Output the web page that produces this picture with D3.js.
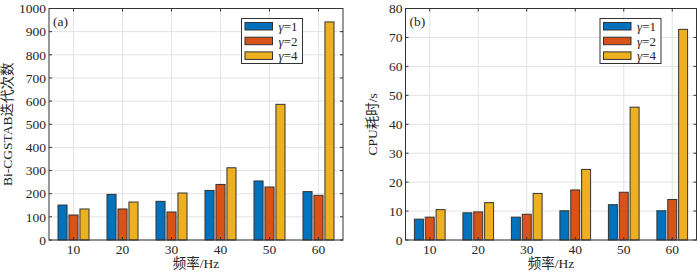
<!DOCTYPE html>
<html>
<head>
<meta charset="utf-8">
<script src="https://cdn.jsdelivr.net/npm/d3@7"></script>
<style>
  body { margin: 0; background: #fff; }
  svg text { font-family: "Liberation Serif", "Times New Roman", "Noto Sans CJK SC", serif; fill: #262626; }
</style>
</head>
<body>
<svg id="chart" width="700" height="272"></svg>
<script>
// categories and series
const freqs = [10, 20, 30, 40, 50, 60];
const seriesNames = ["1", "2", "4"];
const iterG1 = [151, 197, 167, 214, 255, 209];
const iterG2 = [108, 134, 121, 240, 229, 193];
const iterG4 = [134, 164, 203, 312, 586, 942];
const cpuG1 = [7.2, 9.4, 7.9, 10.1, 12.2, 10.1];
const cpuG2 = [7.9, 9.7, 8.9, 17.3, 16.5, 14.0];
const cpuG4 = [10.5, 12.9, 16.1, 24.4, 45.9, 72.8];
const iterTicks = d3.range(0, 1001, 100);
const cpuTicks = d3.range(0, 81, 10);

const colors = ["#0072BD", "#D95319", "#EDB120"];

const svg = d3.select("#chart");

function panel(opts) {
    const { left, right, top, bottom, series, yMax, yTicks, yLabel, tag, legendX } = opts;

    const x = d3.scaleLinear().domain([5, 65]).range([left, right]);
    const y = d3.scaleLinear().domain([0, yMax]).range([bottom, top]);
    const g = svg.append("g");

    // grid
    g.selectAll(".gy").data(yTicks).enter().append("line")
        .attr("x1", left).attr("x2", right)
        .attr("y1", d => y(d)).attr("y2", d => y(d))
        .attr("stroke", "#e3e3e3").attr("stroke-width", 1);
    g.selectAll(".gx").data(freqs).enter().append("line")
        .attr("x1", d => x(d)).attr("x2", d => x(d))
        .attr("y1", top).attr("y2", bottom)
        .attr("stroke", "#e3e3e3").attr("stroke-width", 1);

    // bars
    const offset = 2.24, barW = 1.85;
    series.forEach((vals, s) => {
        g.selectAll(".b" + s).data(vals).enter().append("rect")
            .attr("x", (d, i) => x(freqs[i] + (s - 1) * offset - barW / 2))
            .attr("width", x(barW) - x(0))
            .attr("y", d => y(d))
            .attr("height", d => y(0) - y(d))
            .attr("fill", colors[s])
            .attr("stroke", "#333").attr("stroke-width", 1);
    });

    // box
    g.append("rect")
        .attr("x", left).attr("y", top)
        .attr("width", right - left).attr("height", bottom - top)
        .attr("fill", "none").attr("stroke", "#333").attr("stroke-width", 1);

    // inward ticks
    const tl = 3;
    yTicks.forEach(t => {
        g.append("line").attr("x1", left).attr("x2", left + tl)
            .attr("y1", y(t)).attr("y2", y(t)).attr("stroke", "#333");
        g.append("line").attr("x1", right).attr("x2", right - tl)
            .attr("y1", y(t)).attr("y2", y(t)).attr("stroke", "#333");
    });
    freqs.forEach(f => {
        g.append("line").attr("x1", x(f)).attr("x2", x(f))
            .attr("y1", bottom).attr("y2", bottom - tl).attr("stroke", "#333");
        g.append("line").attr("x1", x(f)).attr("x2", x(f))
            .attr("y1", top).attr("y2", top + tl).attr("stroke", "#333");
    });

    // tick labels
    g.selectAll(".yl").data(yTicks).enter().append("text")
        .attr("x", left - 3).attr("y", d => y(d))
        .attr("dy", "0.35em").attr("text-anchor", "end")
        .style("font-size", "13.5px").text(d => d);
    g.selectAll(".xl").data(freqs).enter().append("text")
        .attr("x", d => x(d)).attr("y", bottom + 13.5)
        .attr("text-anchor", "middle")
        .style("font-size", "13.5px").text(d => d);

    // axis labels
    g.append("text")
        .attr("x", (left + right) / 2).attr("y", 268)
        .attr("text-anchor", "middle")
        .style("font-size", "13.5px").text("频率/Hz");
    g.append("text")
        .attr("transform", `translate(${opts.yLabelX},${(top + bottom) / 2}) rotate(-90)`)
        .attr("text-anchor", "middle")
        .style("font-size", "13.5px").text(yLabel);

    g.append("text")
        .attr("x", left + 4).attr("y", top + 17)
        .style("font-size", "13.5px").text(tag);

    // legend
    const lg = g.append("g").attr("transform", `translate(${legendX},18.5)`);
    lg.append("rect").attr("width", 61).attr("height", 45)
        .attr("fill", "#fff").attr("stroke", "#333");
    seriesNames.forEach((n, s) => {
        lg.append("rect")
            .attr("x", 3.5).attr("y", 4 + s * 14.7)
            .attr("width", 27.5).attr("height", 7.5)
            .attr("fill", colors[s]).attr("stroke", "#333");
        const t = lg.append("text")
            .attr("x", 37).attr("y", 12.5 + s * 14.7)
            .style("font-size", "13px");
        t.append("tspan").style("font-style", "italic").text("γ");
        t.append("tspan").text("=" + n);
    });
}

panel({
    left: 49, right: 343, top: 8.5, bottom: 240,
    series: [iterG1, iterG2, iterG4], yMax: 1000, yTicks: iterTicks,
    yLabel: "Bi-CGSTAB迭代次数", yLabelX: 12, tag: "(a)", legendX: 241.5
});
panel({
    left: 405.5, right: 696.5, top: 8.5, bottom: 240,
    series: [cpuG1, cpuG2, cpuG4], yMax: 80, yTicks: cpuTicks,
    yLabel: "CPU耗时/s", yLabelX: 377, tag: "(b)", legendX: 600
});
</script>
</body>
</html>
